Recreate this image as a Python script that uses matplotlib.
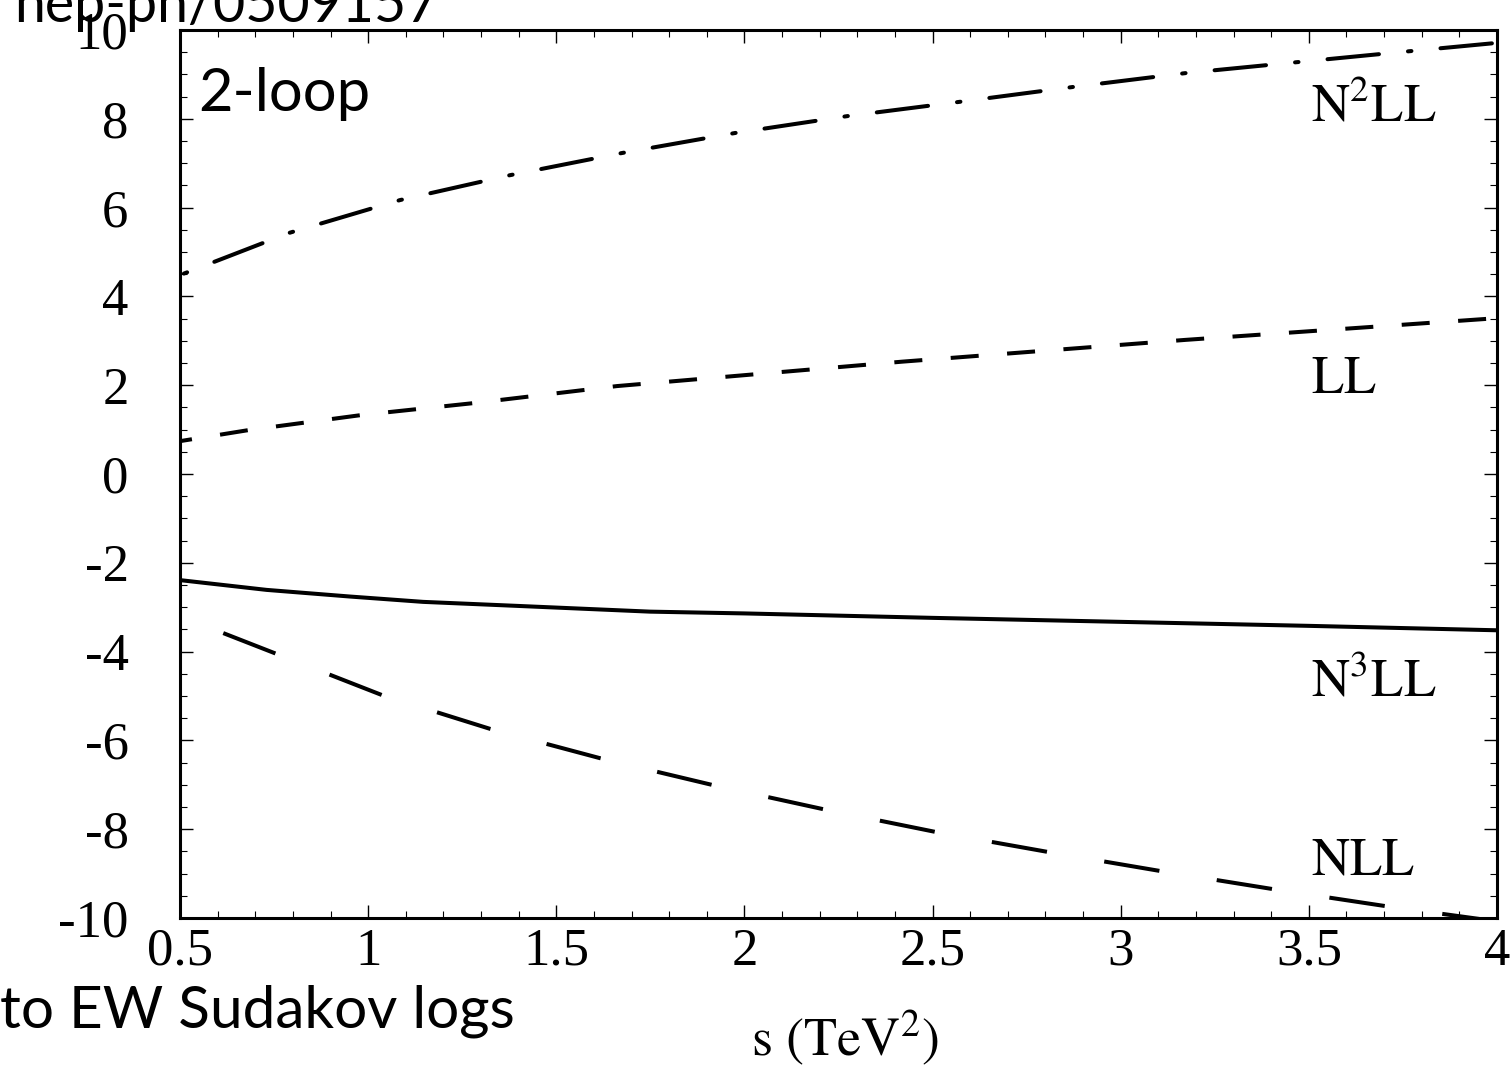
import matplotlib
matplotlib.use("Agg")
import matplotlib.pyplot as plt
from matplotlib.ticker import MultipleLocator

plt.rcParams['font.family'] = ['Liberation Serif', 'DejaVu Serif']
plt.rcParams['mathtext.fontset'] = 'stix'
plt.rcParams['axes.unicode_minus'] = False
plt.rcParams['lines.scale_dashes'] = False

# values, s in TeV^2
x_n2ll = [0.5, 0.79, 1.085, 1.377, 1.675, 1.975, 2.273, 2.57, 2.876, 3.173, 3.474, 3.777, 4.0]
y_n2ll = [4.48, 5.43, 6.17, 6.73, 7.23, 7.68, 8.06, 8.38, 8.72, 9.03, 9.28, 9.53, 9.71]

x_ll = [0.5, 0.683, 0.984, 1.284, 1.661, 2.419, 3.171, 4.0]
y_ll = [0.74, 0.99, 1.33, 1.60, 1.98, 2.53, 3.02, 3.51]

x_n3ll = [0.5, 0.73, 0.952, 1.146, 1.395, 1.749, 2.0, 2.5, 3.0, 3.5, 4.0]
y_n3ll = [-2.39, -2.61, -2.76, -2.88, -2.97, -3.10, -3.14, -3.24, -3.33, -3.42, -3.52]

x_nll = [0.5, 0.614, 1.037, 1.324, 1.616, 1.913, 2.210, 2.507, 2.805, 3.104, 3.405, 3.702, 3.952, 4.0]
y_nll = [-3.15, -3.58, -4.98, -5.74, -6.40, -7.00, -7.55, -8.06, -8.51, -8.94, -9.35, -9.73, -10.02, -10.10]

curve_names = [r'$\mathrm{N}^{2}\mathrm{LL}$', r'$\mathrm{LL}$', r'$\mathrm{N}^{3}\mathrm{LL}$', r'$\mathrm{NLL}$']
label_y = [7.93, 1.82, -5.02, -9.03]
y_ticks = [-10, -8, -6, -4, -2, 0, 2, 4, 6, 8, 10]
x_ticks = [0.5, 1, 1.5, 2, 2.5, 3, 3.5, 4]
x_ticklabels = ['0.5', '1', '1.5', '2', '2.5', '3', '3.5', '4']

W, H = 1511, 1075
fig = plt.figure(figsize=(W / 100, H / 100), dpi=100)
ax = fig.add_axes([180 / W, 1 - 918 / H, (1497 - 180) / W, (918 - 30) / H])

lw = 2.9
# dot - dash pattern, starting on a dot just inside the left axis
dd = (2.5, 21.0, 37.2, 21.0)
ax.plot(x_n2ll, y_n2ll, color='black', lw=lw, linestyle=(sum(dd) - 3.0, dd),
        dash_capstyle='round')
ax.plot(x_ll, y_ll, color='black', lw=lw, linestyle=(11.5, (20.2, 20.5)), dash_capstyle='butt')
ax.plot(x_n3ll, y_n3ll, color='black', lw=lw, solid_joinstyle='round')
ax.plot(x_nll, y_nll, color='black', lw=lw, linestyle=(48, (40.3, 41.8)), dash_capstyle='butt')

for name, yl in zip(curve_names, label_y):
    ax.text(3.506, yl, name, fontsize=38, va='baseline', ha='left')

ax.set_xlim(0.5, 4)
ax.set_ylim(-10, 10)
ax.set_xticks(x_ticks)
ax.set_xticklabels(x_ticklabels)
ax.set_yticks(y_ticks)
ax.set_yticklabels([str(v) for v in y_ticks])
ax.xaxis.set_minor_locator(MultipleLocator(0.1))
ax.yaxis.set_minor_locator(MultipleLocator(0.5))
ax.tick_params(which='both', direction='in', top=True, right=True, color='black')
ax.tick_params(which='major', length=9.5, width=1.0, labelsize=38)
ax.tick_params(which='minor', length=5, width=0.8)
ax.tick_params(axis='y', which='major', pad=37)
ax.tick_params(axis='x', which='major', pad=7)
for sp in ax.spines.values():
    sp.set_linewidth(2.2)

ax.set_xlabel(r'$\mathrm{s\ (TeV}^{2}\mathrm{)}$', fontsize=39, labelpad=22)
ax.xaxis.set_label_coords((845 - 180) / (1497 - 180), -0.155)
ax.xaxis.label.set_va('baseline')

sans = ['Lato', 'DejaVu Sans']
fig.text(14 / W, 1 - 22 / H, 'hep-ph/0509157', fontsize=40, family=sans, va='baseline')
fig.text(198 / W, 1 - 111 / H, '2-loop', fontsize=43, family=sans, va='baseline')
fig.text(0 / W, 1 - 1027 / H, 'to EW Sudakov logs', fontsize=42, family=sans, va='baseline')

fig.savefig('out.png', dpi=100)
